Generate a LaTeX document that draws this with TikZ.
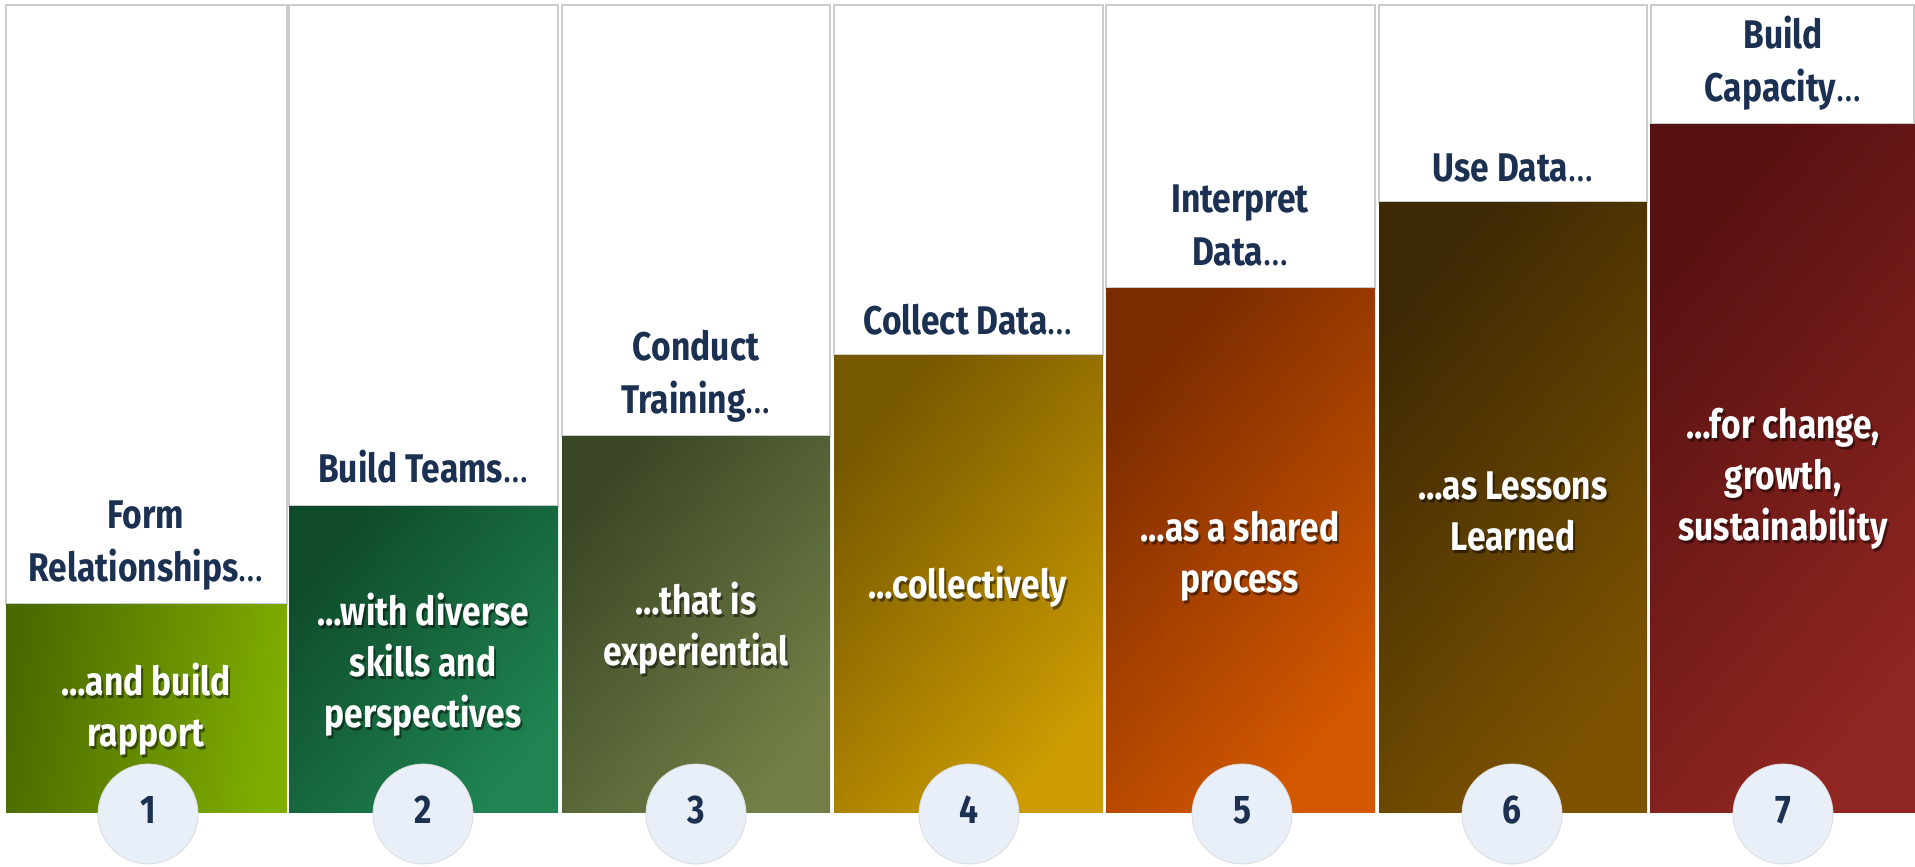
\documentclass[tikz,border=0pt]{standalone}
\usepackage{fontspec}
\setmainfont{Fira Sans}[FakeStretch=0.84]

\definecolor{navy}{HTML}{1C3152}
\definecolor{disc}{HTML}{E9EFF8}
% bar colours, dark corner / light corner
\definecolor{oneA}{HTML}{4A6A00}\definecolor{oneB}{HTML}{80AE00}
\definecolor{twoA}{HTML}{0F4B2B}\definecolor{twoB}{HTML}{1F8451}
\definecolor{threeA}{HTML}{3C4726}\definecolor{threeB}{HTML}{717F46}
\definecolor{fourA}{HTML}{765800}\definecolor{fourB}{HTML}{CC9C02}
\definecolor{fiveA}{HTML}{7A2B00}\definecolor{fiveB}{HTML}{D45800}
\definecolor{sixA}{HTML}{3D2904}\definecolor{sixB}{HTML}{7D5300}
\definecolor{sevenA}{HTML}{571110}\definecolor{sevenB}{HTML}{8F2622}

\newcommand{\trail}{{\mdseries…}}
% white note with a soft drop shadow behind it
% (y is the baseline of the last line)
\newcommand{\stepnote}[4]{%
  \node[stepnoteshadow] (#1s) at (#2+2,#3+3) {#4};
  \node[stepnotetext] (#1) at (#2,#3) {#4};}

\begin{document}
\begin{tikzpicture}[x=1pt,y=-1pt,
  panel/.style={draw=black!20, line width=1.2pt, fill=white},
  stephead/.style={text=navy, align=center, anchor=base, inner sep=0pt,
    font=\bfseries\fontsize{40}{53}\selectfont},
  stepnotetext/.style={text=white, align=center, anchor=base, inner sep=0pt,
    font=\bfseries\fontsize{40}{51}\selectfont},
  stepnoteshadow/.style={stepnotetext, text=black, text opacity=0.45},
  stepdisc/.style={circle, minimum size=100pt, inner sep=0pt, fill=disc,
    draw=black!14, line width=0.8pt, text=navy, text depth=9pt,
    font=\bfseries\fontsize{40}{48}\selectfont}]
\useasboundingbox (0,0) rectangle (1915,867);
\fill[white] (0,0) rectangle (1915,867);

% Step 1: relationships
\draw[panel] (6,5) rectangle (287,604);
\shade[left color=oneA, right color=oneB, shading angle=80] (6,604) rectangle (287,812);
\node[stephead] (head1) at (146,581) {Form\\Relationships\trail};
\stepnote{note1}{146}{746}{…and build\\rapport}
\node[stepdisc] (disc1) at (148,814) {1};

% Step 2: teams
\draw[panel] (289,5) rectangle (558,506);
\shade[left color=twoA, right color=twoB, shading angle=50] (289,506) rectangle (558,812);
\node[stephead] (head2) at (423,482) {Build Teams\trail};
\stepnote{note2}{423}{727}{…with diverse\\skills and\\perspectives}
\node[stepdisc] (disc2) at (423,814) {2};

% Step 3: training
\draw[panel] (562,5) rectangle (830,436);
\shade[left color=threeA, right color=threeB, shading angle=50] (562,436) rectangle (830,812);
\node[stephead] (head3) at (696,413) {Conduct\\Training\trail};
\stepnote{note3}{696}{665}{…that is\\experiential}
\node[stepdisc] (disc3) at (696,814) {3};

% Step 4: collecting
\draw[panel] (834,5) rectangle (1103,355);
\shade[left color=fourA, right color=fourB, shading angle=50] (834,355) rectangle (1103,812);
\node[stephead] (head4) at (968,334) {Collect Data\trail};
\stepnote{note4}{968}{598}{…collectively}
\node[stepdisc] (disc4) at (969,814) {4};

% Step 5: interpreting
\draw[panel] (1106,5) rectangle (1375,288);
\shade[left color=fiveA, right color=fiveB, shading angle=50] (1106,288) rectangle (1375,812);
\node[stephead] (head5) at (1240,265) {Interpret\\Data\trail};
\stepnote{note5}{1240}{592}{…as a shared\\process}
\node[stepdisc] (disc5) at (1242,814) {5};

% Step 6: using
\draw[panel] (1379,5) rectangle (1647,202);
\shade[left color=sixA, right color=sixB, shading angle=50] (1379,202) rectangle (1647,812);
\node[stephead] (head6) at (1513,181) {Use Data\trail};
\stepnote{note6}{1513}{550}{…as Lessons\\Learned}
\node[stepdisc] (disc6) at (1512,814) {6};

% Step 7: capacity
\draw[panel] (1651,5) rectangle (1914,124);
\shade[left color=sevenA, right color=sevenB, shading angle=50] (1650,124) rectangle (1915,812);
\node[stephead] (head7) at (1783,102) {Build\\Capacity\trail};
\stepnote{note7}{1783}{540}{…for change,\\growth,\\sustainability}
\node[stepdisc] (disc7) at (1783,814) {7};
\end{tikzpicture}
\end{document}
